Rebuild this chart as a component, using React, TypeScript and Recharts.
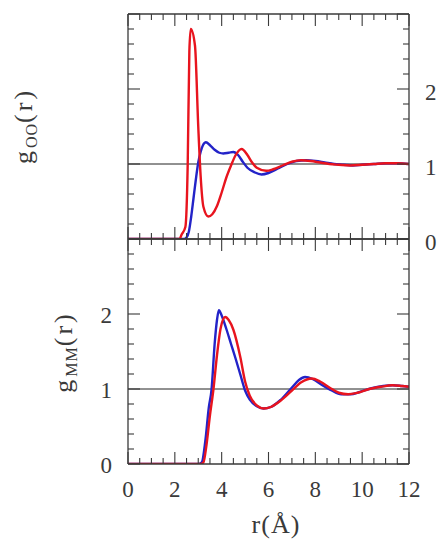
import React from "react";
import { LineChart, Line, XAxis, YAxis, ReferenceLine } from "recharts";

// radial distribution functions
const OO_BLUE_R = [0, 2.4, 2.5, 2.6, 2.7, 2.8, 2.9, 3.0, 3.1, 3.2, 3.33, 3.5, 3.7, 3.9, 4.07, 4.3, 4.5, 4.7, 4.9, 5.1, 5.4, 5.7, 6.0, 6.4, 6.8, 7.2, 7.6, 8.0, 8.4, 8.8, 9.2, 9.6, 10.0, 10.5, 11.0, 11.5, 12.0];
const OO_BLUE_G = [0, 0, 0.02, 0.1, 0.3, 0.55, 0.8, 1.02, 1.16, 1.25, 1.29, 1.25, 1.19, 1.15, 1.14, 1.15, 1.16, 1.12, 1.03, 0.95, 0.89, 0.86, 0.88, 0.94, 1.0, 1.04, 1.05, 1.04, 1.02, 1.0, 0.99, 0.98, 0.99, 1.0, 1.01, 1.01, 1.0];

const OO_RED_R = [0, 2.2, 2.29, 2.45, 2.55, 2.62, 2.68, 2.86, 3.0, 3.1, 3.22, 3.43, 3.6, 3.8, 4.0, 4.2, 4.4, 4.6, 4.85, 5.1, 5.3, 5.5, 5.9, 6.2, 6.6, 7.0, 7.4, 7.8, 8.2, 8.6, 9.0, 9.5, 10.0, 10.5, 11.0, 11.5, 12.0];
const OO_RED_G = [0, 0, 0.06, 0.16, 1.0, 2.5, 2.8, 2.58, 1.5, 0.85, 0.43, 0.3, 0.33, 0.44, 0.62, 0.82, 0.98, 1.12, 1.2, 1.12, 1.02, 0.95, 0.91, 0.93, 0.98, 1.03, 1.05, 1.04, 1.02, 1.0, 0.99, 0.98, 0.99, 1.0, 1.01, 1.01, 1.0];

const MM_BLUE_R = [0, 3.0, 3.15, 3.3, 3.45, 3.57, 3.7, 3.8, 3.88, 4.0, 4.2, 4.4, 4.6, 4.8, 5.0, 5.2, 5.5, 5.78, 6.1, 6.5, 7.0, 7.3, 7.56, 7.9, 8.3, 8.7, 9.1, 9.5, 9.9, 10.4, 10.9, 11.3, 11.7, 12.0];
const MM_BLUE_G = [0, 0, 0.02, 0.3, 0.75, 1.0, 1.6, 1.92, 2.05, 1.98, 1.8, 1.6, 1.4, 1.19, 0.98, 0.86, 0.77, 0.74, 0.76, 0.85, 1.02, 1.12, 1.16, 1.13, 1.05, 0.98, 0.93, 0.93, 0.96, 1.01, 1.04, 1.05, 1.04, 1.03];

const MM_RED_R = [0, 3.1, 3.22, 3.35, 3.5, 3.65, 3.8, 3.95, 4.15, 4.3, 4.5, 4.8, 5.0, 5.2, 5.5, 5.8, 6.1, 6.5, 7.0, 7.4, 7.85, 8.2, 8.6, 9.0, 9.4, 9.8, 10.3, 10.8, 11.3, 11.7, 12.0];
const MM_RED_G = [0, 0, 0.02, 0.25, 0.65, 1.0, 1.45, 1.8, 1.96, 1.92, 1.79, 1.42, 1.1, 0.91, 0.78, 0.74, 0.76, 0.84, 0.98, 1.09, 1.14, 1.1, 1.02, 0.95, 0.93, 0.95, 1.0, 1.03, 1.05, 1.04, 1.03];

const X_TICKS = [0, 0.5, 1, 1.5, 2, 2.5, 3, 3.5, 4, 4.5, 5, 5.5, 6, 6.5, 7, 7.5, 8, 8.5, 9, 9.5, 10, 10.5, 11, 11.5, 12];
const Y_TICKS = [0, 0.2, 0.4, 0.6, 0.8, 1, 1.2, 1.4, 1.6, 1.8, 2, 2.2, 2.4, 2.6, 2.8, 3];
const X_LABELS = [0, 2, 4, 6, 8, 10, 12];
const Y_LABELS = [0, 1, 2];

const RED = "#e8141e";
const BLUE = "#2323c8";
const INK = "#3a3a3a";
const FONT = "Liberation Serif";
const W = 443;
const H = 539;

const zip = (r: number[], g: number[]) => r.map((v, i) => ({ r: v, g: g[i] }));

const near = (v: number, step: number) => Math.abs(v / step - Math.round(v / step)) < 1e-6;

// inward tick marks; side tells which frame edge we are on
function Tick(props: any) {
  const { x, y, payload, side, labels } = props;
  const v = payload.value;
  const major = side === "top" || side === "bottom" ? near(v, 2) : near(v, 1);
  const len = major ? 12 : 6;
  let x2 = x, y2 = y;
  if (side === "bottom") y2 = y - len;
  if (side === "top") y2 = y + len;
  if (side === "left") x2 = x + len;
  if (side === "right") x2 = x - len;
  const show = labels && labels.some((l: number) => Math.abs(l - v) < 1e-6);
  let label = null;
  if (show) {
    if (side === "bottom")
      label = <text x={x} y={y + 33} textAnchor="middle" fontFamily={FONT} fontSize={23} fill={INK}>{v}</text>;
    if (side === "left")
      label = <text x={x - 16} y={y + 9} textAnchor="end" fontFamily={FONT} fontSize={23} fill={INK}>{v}</text>;
    if (side === "right")
      label = <text x={x + 16} y={y + 11} textAnchor="start" fontFamily={FONT} fontSize={23} fill={INK}>{v}</text>;
  }
  return (
    <g>
      <line x1={x} y1={y} x2={x2} y2={y2} stroke={INK} strokeWidth={1.1} />
      {label}
    </g>
  );
}

function YTitle({ cx, cy, sub }: { cx: number; cy: number; sub: string }) {
  return (
    <text transform={`translate(${cx},${cy}) rotate(-90)`} textAnchor="middle" fontFamily={FONT} fontSize={26} fill={INK} letterSpacing={3}>
      g<tspan fontSize={16} dy={5} letterSpacing={1}>{sub}</tspan>
      <tspan dy={-5} letterSpacing={3}>(r)</tspan>
    </text>
  );
}

function XTitle() {
  return (
    <text x={276} y={533} textAnchor="middle" fontFamily={FONT} fontSize={26} fill={INK} letterSpacing={1}>r(Å)</text>
  );
}

function Panel({ top, bottom, blue, red, rightLabels, leftLabels, xLabels, sub, titlePos }: any) {
  const axisLine = { stroke: INK, strokeWidth: 1.3 };
  return (
    <div style={{ position: "absolute", left: 0, top: 0 }}>
      <LineChart width={W} height={H} margin={{ top: top - 1, right: 33, bottom: bottom - 1, left: 127 }}>
        <XAxis xAxisId="b" dataKey="r" type="number" domain={[0, 12]} ticks={X_TICKS} interval={0} height={1}
          tickSize={0} tickMargin={0} tickLine={false} axisLine={axisLine} allowDataOverflow
          tick={(p: any) => <Tick {...p} side="bottom" labels={xLabels} />}
          label={xLabels ? <XTitle /> : undefined} />
        <XAxis xAxisId="t" orientation="top" dataKey="r" type="number" domain={[0, 12]} ticks={X_TICKS} interval={0} height={1}
          tickSize={0} tickMargin={0} tickLine={false} axisLine={axisLine} allowDataOverflow
          tick={(p: any) => <Tick {...p} side="top" />} />
        <YAxis yAxisId="l" type="number" domain={[0, 3]} ticks={Y_TICKS} interval={0} width={1}
          tickSize={0} tickMargin={0} tickLine={false} axisLine={axisLine} allowDataOverflow
          tick={(p: any) => <Tick {...p} side="left" labels={leftLabels} />}
          label={<YTitle cx={titlePos[0]} cy={titlePos[1]} sub={sub} />} />
        <YAxis yAxisId="r" orientation="right" type="number" domain={[0, 3]} ticks={Y_TICKS} interval={0} width={1}
          tickSize={0} tickMargin={0} tickLine={false} axisLine={axisLine} allowDataOverflow
          tick={(p: any) => <Tick {...p} side="right" labels={rightLabels} />} />
        <ReferenceLine xAxisId="b" yAxisId="l" y={1} stroke="#222" strokeWidth={1} />
        <Line xAxisId="b" yAxisId="l" data={blue} dataKey="g" type="monotone" stroke={BLUE} strokeWidth={2.4} dot={false} isAnimationActive={false} />
        <Line xAxisId="b" yAxisId="l" data={red} dataKey="g" type="monotone" stroke={RED} strokeWidth={2.4} dot={false} isAnimationActive={false} />
        {/* invisible series so the top and right frame axes get their scales */}
        <Line xAxisId="t" yAxisId="r" data={red} dataKey="g" stroke="none" dot={false} activeDot={false} legendType="none" isAnimationActive={false} />
      </LineChart>
    </div>
  );
}

export default function App() {
  return (
    <div style={{ position: "absolute", left: 0, top: 0, width: W, height: H, background: "#fff" }}>
      <Panel top={14} bottom={H - 239} blue={zip(OO_BLUE_R, OO_BLUE_G)} red={zip(OO_RED_R, OO_RED_G)}
        rightLabels={Y_LABELS} sub="OO" titlePos={[32, 126]} />
      <Panel top={239} bottom={H - 464} blue={zip(MM_BLUE_R, MM_BLUE_G)} red={zip(MM_RED_R, MM_RED_G)}
        leftLabels={Y_LABELS} xLabels={X_LABELS} sub="MM" titlePos={[72, 352]} />
    </div>
  );
}
